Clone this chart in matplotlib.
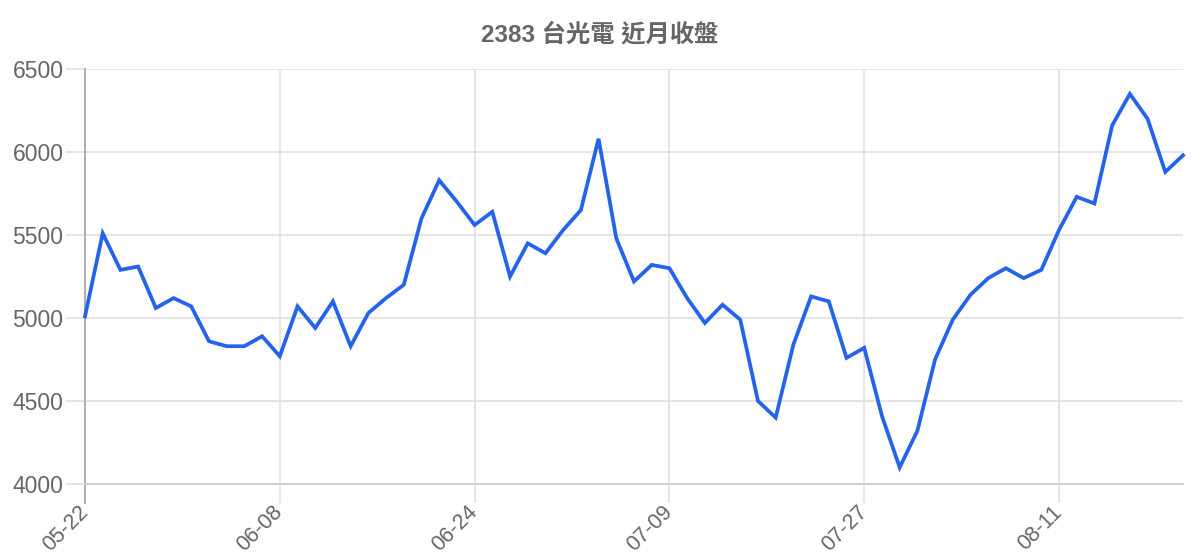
import matplotlib
matplotlib.use("Agg")
import matplotlib.pyplot as plt

# closing prices, one per trading day
closes = [
    5010, 5510, 5290, 5310, 5060, 5120, 5070, 4860, 4830, 4830,
    4890, 4770, 5070, 4940, 5100, 4830, 5030, 5120, 5200, 5600,
    5830, 5700, 5560, 5640, 5250, 5450, 5390, 5530, 5650, 6080,
    5480, 5220, 5320, 5300, 5120, 4970, 5080, 4990, 4500, 4400,
    4840, 5130, 5100, 4760, 4820, 4410, 4100, 4320, 4750, 4990,
    5140, 5240, 5300, 5240, 5290, 5530, 5730, 5690, 6160, 6350,
    6200, 5880, 5980,
]
tick_index = [0, 11, 22, 33, 44, 55]
tick_labels = ["05-22", "06-08", "06-24", "07-09", "07-27", "08-11"]
y_ticks = [4000, 4500, 5000, 5500, 6000, 6500]

title = "2383 台光電 近月收盤"
FONTS = ["Liberation Sans", "Noto Sans CJK TC", "DejaVu Sans"]
plt.rcParams["font.family"] = FONTS

TEXT = "#666666"
GRID = "#e0e0e0"
LINE = "#2563eb"

fig = plt.figure(figsize=(12, 5.6), dpi=100)
ax = fig.add_axes([85 / 1200, 1 - 484 / 560, (1183 - 85) / 1200, (484 - 69) / 560])

x = list(range(len(closes)))
ax.plot(x, closes, color=LINE, linewidth=2.7, solid_joinstyle="miter",
        clip_on=False, zorder=3)

ax.set_xlim(0, len(closes) - 1)
ax.set_ylim(4000, 6500)
ax.set_yticks(y_ticks)
ax.set_yticklabels([str(v) for v in y_ticks])
ax.set_xticks(tick_index)
ax.set_xticklabels(tick_labels, rotation=45, ha="right", va="center",
                   rotation_mode="anchor")

ax.grid(True, color=GRID, linewidth=1.2, zorder=0)
ax.tick_params(axis="y", length=14, width=1.2, color=GRID, pad=1.5,
               labelsize=16.5, labelcolor=TEXT)
ax.tick_params(axis="x", length=14, width=1.2, color=GRID, pad=4,
               labelsize=15.5, labelcolor=TEXT)

for side in ("top", "right"):
    ax.spines[side].set_visible(False)
ax.spines["bottom"].set_color("#cccccc")
ax.spines["bottom"].set_linewidth(1.3)
ax.spines["left"].set_color("#aaaaaa")
ax.spines["left"].set_linewidth(1.3)
ax.spines["left"].set_bounds(4000 - 2500 * 19 / 415, 6500)

fig.text(0.5, 1 - 35 / 560, title, ha="center", va="center",
         fontsize=17.5, fontweight="bold", color=TEXT)

fig.savefig("out.png", dpi=100)
